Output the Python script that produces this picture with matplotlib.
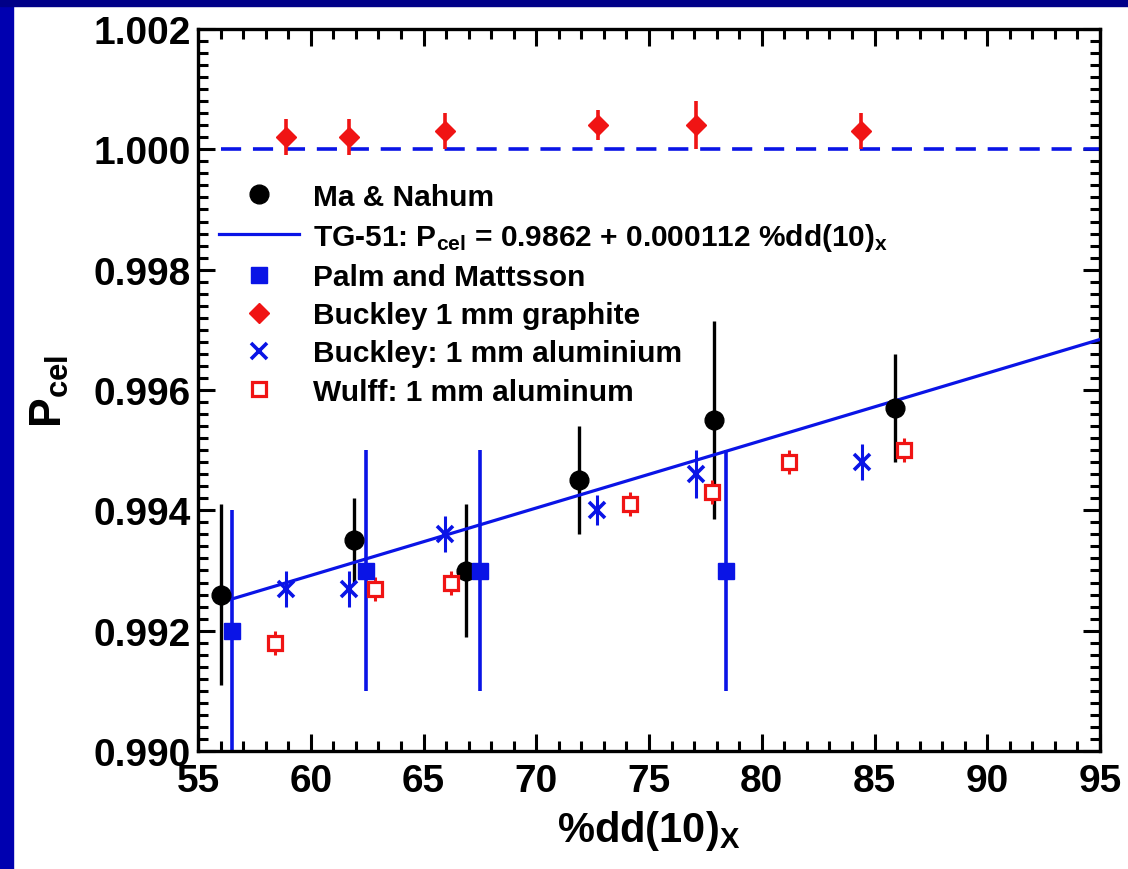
import matplotlib
matplotlib.use("Agg")
import matplotlib.pyplot as plt
from matplotlib.patches import Rectangle
from matplotlib.ticker import MultipleLocator, FormatStrFormatter

plt.rcParams['font.family'] = ['Liberation Sans', 'DejaVu Sans']
plt.rcParams['font.weight'] = 'bold'
plt.rcParams['axes.labelweight'] = 'bold'
plt.rcParams['mathtext.fontset'] = 'custom'
plt.rcParams['mathtext.rm'] = 'Liberation Sans:bold'
plt.rcParams['mathtext.it'] = 'Liberation Sans:bold'
plt.rcParams['mathtext.bf'] = 'Liberation Sans:bold'
plt.rcParams['mathtext.default'] = 'rm'
plt.rcParams['lines.scale_dashes'] = False

BLUE = '#0a14e6'
RED = '#f01414'

# Ma & Nahum
ma_x = [56.0, 61.9, 66.9, 71.9, 77.9, 85.9]
ma_y = [0.9926, 0.9935, 0.9930, 0.9945, 0.9955, 0.9957]
ma_err = [0.0015, 0.0007, 0.0011, 0.0009, 0.00165, 0.0009]

# TG-51 fit line, end points
tg_x = [56.0, 95.0]
tg_y = [0.99247, 0.99684]

# Palm and Mattsson
palm_x = [56.5, 62.45, 67.5, 78.4]
palm_y = [0.9920, 0.9930, 0.9930, 0.9930]
palm_err = [0.002, 0.002, 0.002, 0.002]

# Buckley 1 mm graphite
gr_x = [58.9, 61.7, 65.95, 72.75, 77.1, 84.4]
gr_y = [1.0002, 1.0002, 1.0003, 1.0004, 1.0004, 1.0003]
gr_err = [0.0003, 0.0003, 0.0003, 0.00025, 0.0004, 0.0003]

# Buckley 1 mm aluminium
al_x = [58.9, 61.7, 65.95, 72.7, 77.1, 84.45]
al_y = [0.9927, 0.9927, 0.9936, 0.9940, 0.9946, 0.9948]
al_err = [0.0003, 0.0003, 0.0003, 0.00025, 0.0004, 0.0003]

# Wulff 1 mm aluminum
wu_x = [58.4, 62.85, 66.2, 74.15, 77.8, 81.2, 86.3]
wu_y = [0.9918, 0.9927, 0.9928, 0.9941, 0.9943, 0.9948, 0.9950]
wu_err = [0.0002, 0.0002, 0.0002, 0.0002, 0.0002, 0.0002, 0.0002]

ref_x = [56.0, 95.0]
ref_y = [1.000, 1.000]

fig = plt.figure(figsize=(11.28, 8.7), dpi=100)
fig.patches.append(Rectangle((0, 0), 13 / 1128, 1, transform=fig.transFigure,
                             color='#0000b0', zorder=0))
fig.patches.append(Rectangle((0, 1 - 7 / 870), 1, 7 / 870, transform=fig.transFigure,
                             color='#000088', zorder=0))

ax = fig.add_axes([198 / 1128, 1 - 752 / 870, 902 / 1128, 722 / 870])

ax.plot(ref_x, ref_y, color=BLUE, lw=2.6, dashes=(14.5, 8.5))

ax.errorbar(ma_x, ma_y, yerr=ma_err, fmt='none', ecolor='black', elinewidth=2.4)
ax.errorbar(palm_x, palm_y, yerr=palm_err, fmt='none', ecolor=BLUE, elinewidth=2.6)
ax.errorbar(gr_x, gr_y, yerr=gr_err, fmt='none', ecolor=RED, elinewidth=2.6)
ax.errorbar(al_x, al_y, yerr=al_err, fmt='none', ecolor=BLUE, elinewidth=2.2)
ax.errorbar(wu_x, wu_y, yerr=wu_err, fmt='none', ecolor=RED, elinewidth=2.2)

ax.plot(ma_x, ma_y, 'o', color='black', ms=13.5, label='Ma & Nahum', zorder=4)
ax.plot(tg_x, tg_y, '-', color=BLUE, lw=2.3,
        label=r'TG-51: P$_{cel}$ = 0.9862 + 0.000112 %dd(10)$_{x}$', zorder=3)
ax.plot(palm_x, palm_y, 's', color=BLUE, ms=12, label='Palm and Mattsson', zorder=4)
ax.plot(gr_x, gr_y, 'D', color=RED, ms=10.5, label='Buckley 1 mm graphite', zorder=4)
ax.plot(al_x, al_y, 'x', color=BLUE, ms=12, mew=2.6,
        label='Buckley: 1 mm aluminium', zorder=4)
ax.plot(wu_x, wu_y, 's', mfc='white', mec=RED, mew=2.3, ms=9.5,
        label='Wulff: 1 mm aluminum', zorder=4)

ax.set_xlim(55, 95)
ax.set_ylim(0.990, 1.002)
ax.xaxis.set_major_locator(MultipleLocator(5))
ax.xaxis.set_minor_locator(MultipleLocator(1))
ax.yaxis.set_major_locator(MultipleLocator(0.002))
ax.yaxis.set_minor_locator(MultipleLocator(0.0002))
ax.yaxis.set_major_formatter(FormatStrFormatter('%.3f'))

ax.tick_params(which='both', direction='in', top=True, right=True, width=2.2)
ax.tick_params(which='major', length=12, labelsize=28)
ax.tick_params(which='minor', length=7)
ax.tick_params(axis='x', which='major', pad=9)
ax.tick_params(axis='y', which='major', pad=5)
for s in ax.spines.values():
    s.set_linewidth(2.4)

ax.set_xlabel('%dd(10)$_{X}$', fontsize=30, labelpad=6)
ax.set_ylabel('P$_{cel}$', fontsize=32, labelpad=16)

ax.legend(loc='upper left', bbox_to_anchor=(0.023, 0.787), frameon=False,
          fontsize=21.5, handlelength=2.7, handletextpad=0.45,
          labelspacing=0.34, borderpad=0, borderaxespad=0, numpoints=1)

fig.savefig('out.png', dpi=100)
